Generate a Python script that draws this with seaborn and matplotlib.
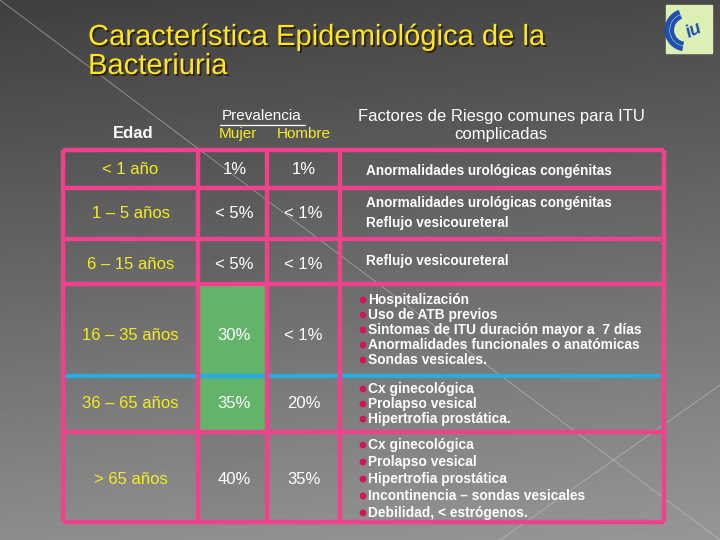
import numpy as np
import matplotlib.pyplot as plt
import matplotlib.patheffects as pe
from matplotlib.patches import Rectangle, Arc
import seaborn as sns

sns.set_theme(style="white")
plt.rcParams["font.family"] = ["Liberation Sans", "DejaVu Sans"]

# ---- data ----
edad = ["< 1 año", "1 – 5 años", "6 – 15 años", "16 – 35 años", "36 – 65 años", "> 65 años"]
mujer = ["1%", "< 5%", "< 5%", "30%", "35%", "40%"]
hombre = ["1%", "< 1%", "< 1%", "< 1%", "20%", "35%"]
factores = [
    ["Anormalidades urológicas congénitas"],
    ["Anormalidades urológicas congénitas", "Reflujo vesicoureteral"],
    ["Reflujo vesicoureteral"],
    ["Hospitalización", "Uso de ATB previos", "Sintomas de ITU duración mayor a  7 días",
     "Anormalidades funcionales o anatómicas", "Sondas vesicales."],
    ["Cx ginecológica", "Prolapso vesical", "Hipertrofia prostática."],
    ["Cx ginecológica", "Prolapso vesical", "Hipertrofia prostática",
     "Incontinencia – sondas vesicales", "Debilidad, < estrógenos."],
]
con_vinetas = [False, False, False, True, True, True]
resaltado_mujer = [False, False, False, True, True, False]

# ---- layout (pixels) ----
row_edges = [150, 188, 239, 284, 376, 432, 522]
col_edges = [63, 198, 267, 340, 664]
text_dy = [0, 0, 3, 6, 0, 3]
line_gap = [20, 20, 20, 15, 15, 17]

PINK = "#F0428C"
BLUE = "#2BAAE2"
GREEN = "#63B46A"
YELLOW = "#F5EE1E"
TITLE_YELLOW = "#FFE81A"

fig = plt.figure(figsize=(7.2, 5.4), dpi=100)
ax = fig.add_axes([0, 0, 1, 1])
ax.set_xlim(0, 720)
ax.set_ylim(540, 0)
ax.axis("off")

# background gradient
yy, xx = np.mgrid[0:1:200j, 0:1:200j]
grad = 0.25 + 0.30 * yy + 0.04 * xx
ax.imshow(grad, cmap="gray", vmin=0, vmax=1, extent=[0, 720, 540, 0], aspect="auto", zorder=0)
ax.plot([0, 720], [0, 540], color="#c8c8c8", lw=0.6, alpha=0.6, zorder=1)
ax.plot([500, 720], [540, 385], color="#c8c8c8", lw=0.6, alpha=0.6, zorder=1)

# title
shadow = [pe.withSimplePatchShadow(offset=(1.3, -1.3), shadow_rgbFace="#2a1a00", alpha=0.9)]
for i, line in enumerate(["Característica Epidemiológica de la", "Bacteriuria"]):
    ax.text(88, 37 + 29 * i, line, color=TITLE_YELLOW, fontsize=21, ha="left", va="center",
            path_effects=shadow, zorder=5)

# logo
ax.add_patch(Rectangle((666, 5), 46, 48, color="#DCEFB4", zorder=4))
for r, w in [(19, 3.5), (14, 3.0)]:
    ax.add_patch(Arc((686, 30), r * 2, r * 2, theta1=100, theta2=250, color="#1F4FB0", lw=w, zorder=5))
ax.text(694, 31, "iu", color="#1F4FB0", fontsize=13, fontweight="bold", fontstyle="italic",
        ha="center", va="center", rotation=25, zorder=5)

# headers
ax.text(133, 134, "Edad", color="white", fontsize=12, fontweight="bold", ha="center", va="center")
ax.text(262, 116, "Prevalencia", color="white", fontsize=11, ha="center", va="center")
ax.plot([220, 305], [125, 125], color="white", lw=0.9)
ax.text(238, 134, "Mujer", color=YELLOW, fontsize=11, ha="center", va="center")
ax.text(304, 134, "Hombre", color=YELLOW, fontsize=11, ha="center", va="center")
ax.text(501, 117, "Factores de Riesgo comunes para ITU", color="white", fontsize=12, ha="center", va="center")
ax.text(501, 134, "complicadas", color="white", fontsize=12, ha="center", va="center")

# cells
tops = np.array(row_edges[:-1])
heights = np.diff(row_edges)
centers = tops + heights / 2
mujer_colors = [GREEN if h else (0, 0, 0, 0.04) for h in resaltado_mujer]
ax.bar([(col_edges[1] + col_edges[2]) / 2] * len(edad), heights, bottom=tops,
       width=col_edges[2] - col_edges[1], color=mujer_colors, zorder=2)

# grid lines
blue_idx = 4
ax.hlines(row_edges[blue_idx], col_edges[0], col_edges[-1] - 4, color=BLUE, lw=3.2, zorder=3)
pink_rows = [y for i, y in enumerate(row_edges) if i != blue_idx]
ax.hlines(pink_rows, col_edges[0], col_edges[-1], color=PINK, lw=3.2, zorder=4)
ax.vlines(col_edges, row_edges[0], row_edges[-1], color=PINK, lw=3.2, zorder=4)

# cell text
for i in range(len(edad)):
    yc = centers[i] + text_dy[i]
    ax.text((col_edges[0] + col_edges[1]) / 2, yc, edad[i], color=YELLOW, fontsize=12,
            ha="center", va="center", zorder=6)
    ax.text((col_edges[1] + col_edges[2]) / 2 + 2, yc, mujer[i], color="white", fontsize=12,
            ha="center", va="center", zorder=6)
    ax.text((col_edges[2] + col_edges[3]) / 2, yc, hombre[i], color="white", fontsize=12,
            ha="center", va="center", zorder=6)

    lines = factores[i]
    n = len(lines)
    ys = centers[i] + (np.arange(n) - (n - 1) / 2) * line_gap[i] + (2 if i in (0, 5) else 0)
    if con_vinetas[i]:
        sns.scatterplot(x=[363] * n, y=ys, color="#D2155A", s=24, edgecolor="none", ax=ax,
                        zorder=6, legend=False)
        for t, y in zip(lines, ys):
            ax.text(368, y, t, color="white", fontsize=9.9, fontweight="bold",
                    ha="left", va="center", zorder=6)
    else:
        for t, y in zip(lines, ys):
            ax.text(366, y, t, color="white", fontsize=9.8, fontweight="bold",
                    ha="left", va="center", zorder=6)

ax.set_xlim(0, 720)
ax.set_ylim(540, 0)
fig.savefig("out.png", dpi=100)
